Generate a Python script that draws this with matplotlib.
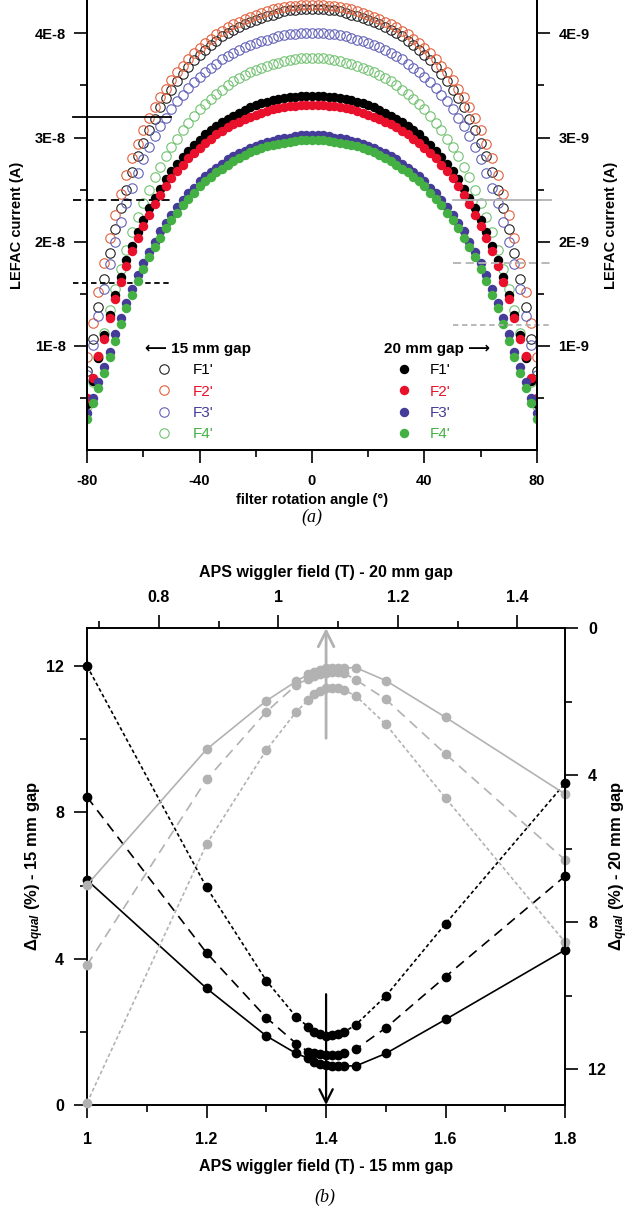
import matplotlib
matplotlib.use("Agg")
import matplotlib.pyplot as plt
from matplotlib.ticker import FixedLocator, FuncFormatter
from matplotlib.lines import Line2D

plt.rcParams['font.family'] = ['Liberation Sans', 'DejaVu Sans']
plt.rcParams['font.weight'] = 'bold'
plt.rcParams['axes.unicode_minus'] = False
plt.rcParams['mathtext.fontset'] = 'custom'
plt.rcParams['mathtext.rm'] = 'Liberation Sans:bold'
plt.rcParams['mathtext.it'] = 'Liberation Sans:bold:italic'
plt.rcParams['mathtext.bf'] = 'Liberation Sans:bold'

#%% panel (a) data: LEFAC current vs filter rotation angle
angle = list(range(-80, 81, 2))
names = ["F1'", "F2'", "F3'", "F4'"]

# 15 mm gap, open circles, units of 1E-8 A (left axis)
open_F1 = [0.76, 1.07, 1.37, 1.64, 1.89, 2.12, 2.32, 2.50, 2.67, 2.82, 2.95, 3.07, 3.18, 3.29, 3.38, 3.46, 3.54, 3.61, 3.68, 3.74,
           3.79, 3.84, 3.89, 3.93, 3.97, 4.00, 4.03, 4.06, 4.09, 4.11, 4.13, 4.15, 4.17, 4.18, 4.20, 4.21, 4.22, 4.22, 4.23, 4.23,
           4.23,
           4.23, 4.23, 4.22, 4.22, 4.21, 4.20, 4.18, 4.17, 4.15, 4.13, 4.11, 4.09, 4.06, 4.03, 4.00, 3.97, 3.93, 3.89, 3.84,
           3.79, 3.74, 3.68, 3.61, 3.54, 3.46, 3.38, 3.29, 3.18, 3.07, 2.95, 2.82, 2.67, 2.50, 2.32, 2.12, 1.89, 1.64, 1.37, 1.07, 0.76]
open_F2 = [0.89, 1.22, 1.52, 1.80, 2.04, 2.26, 2.46, 2.64, 2.80, 2.94, 3.07, 3.19, 3.29, 3.39, 3.47, 3.55, 3.63, 3.69, 3.75, 3.81,
           3.86, 3.91, 3.95, 3.99, 4.02, 4.06, 4.09, 4.11, 4.14, 4.16, 4.18, 4.20, 4.21, 4.23, 4.24, 4.25, 4.26, 4.26, 4.27, 4.27,
           4.27,
           4.27, 4.27, 4.26, 4.26, 4.25, 4.24, 4.23, 4.21, 4.20, 4.18, 4.16, 4.14, 4.11, 4.09, 4.06, 4.02, 3.99, 3.95, 3.91,
           3.86, 3.81, 3.75, 3.69, 3.63, 3.55, 3.47, 3.39, 3.29, 3.19, 3.07, 2.94, 2.80, 2.64, 2.46, 2.26, 2.04, 1.80, 1.52, 1.22, 0.89]
open_F3 = [0.72, 1.01, 1.29, 1.55, 1.79, 2.00, 2.19, 2.37, 2.52, 2.66, 2.79, 2.91, 3.01, 3.11, 3.19, 3.27, 3.35, 3.41, 3.48, 3.53,
           3.58, 3.63, 3.67, 3.71, 3.75, 3.78, 3.81, 3.84, 3.87, 3.89, 3.91, 3.93, 3.94, 3.96, 3.97, 3.98, 3.99, 3.99, 4.00, 4.00,
           4.00,
           4.00, 4.00, 3.99, 3.99, 3.98, 3.97, 3.96, 3.94, 3.93, 3.91, 3.89, 3.87, 3.84, 3.81, 3.78, 3.75, 3.71, 3.67, 3.63,
           3.58, 3.53, 3.48, 3.41, 3.35, 3.27, 3.19, 3.11, 3.01, 2.91, 2.79, 2.66, 2.52, 2.37, 2.19, 2.00, 1.79, 1.55, 1.29, 1.01, 0.72]
open_F4 = [0.42, 0.65, 0.89, 1.12, 1.34, 1.55, 1.74, 1.92, 2.09, 2.24, 2.37, 2.50, 2.62, 2.72, 2.82, 2.91, 2.99, 3.07, 3.14, 3.21,
           3.27, 3.32, 3.37, 3.42, 3.46, 3.50, 3.54, 3.57, 3.60, 3.63, 3.65, 3.67, 3.69, 3.71, 3.72, 3.73, 3.74, 3.75, 3.76, 3.76,
           3.76,
           3.76, 3.76, 3.75, 3.74, 3.73, 3.72, 3.71, 3.69, 3.67, 3.65, 3.63, 3.60, 3.57, 3.54, 3.50, 3.46, 3.42, 3.37, 3.32,
           3.27, 3.21, 3.14, 3.07, 2.99, 2.91, 2.82, 2.72, 2.62, 2.50, 2.37, 2.24, 2.09, 1.92, 1.74, 1.55, 1.34, 1.12, 0.89, 0.65, 0.42]

# 20 mm gap, filled circles, units of 1E-9 A (right axis)
fill_F1 = [0.44, 0.66, 0.88, 1.10, 1.30, 1.49, 1.66, 1.82, 1.96, 2.09, 2.21, 2.32, 2.42, 2.51, 2.60, 2.68, 2.75, 2.81, 2.87, 2.93,
           2.98, 3.03, 3.07, 3.11, 3.15, 3.18, 3.21, 3.24, 3.26, 3.29, 3.31, 3.33, 3.34, 3.36, 3.37, 3.38, 3.39, 3.39, 3.40, 3.40,
           3.40,
           3.40, 3.40, 3.39, 3.39, 3.38, 3.37, 3.36, 3.34, 3.33, 3.31, 3.29, 3.26, 3.24, 3.21, 3.18, 3.15, 3.11, 3.07, 3.03,
           2.98, 2.93, 2.87, 2.81, 2.75, 2.68, 2.60, 2.51, 2.42, 2.32, 2.21, 2.09, 1.96, 1.82, 1.66, 1.49, 1.30, 1.10, 0.88, 0.66, 0.44]
fill_F2 = [0.50, 0.69, 0.90, 1.07, 1.27, 1.45, 1.61, 1.77, 1.91, 2.04, 2.15, 2.26, 2.36, 2.45, 2.53, 2.61, 2.68, 2.74, 2.80, 2.85,
           2.90, 2.95, 2.99, 3.03, 3.06, 3.10, 3.13, 3.15, 3.18, 3.20, 3.22, 3.24, 3.25, 3.27, 3.28, 3.29, 3.30, 3.30, 3.31, 3.31,
           3.31,
           3.31, 3.31, 3.30, 3.30, 3.29, 3.28, 3.27, 3.25, 3.24, 3.22, 3.20, 3.18, 3.15, 3.13, 3.10, 3.06, 3.03, 2.99, 2.95,
           2.90, 2.85, 2.80, 2.74, 2.68, 2.61, 2.53, 2.45, 2.36, 2.26, 2.15, 2.04, 1.91, 1.77, 1.61, 1.45, 1.27, 1.07, 0.90, 0.69, 0.50]
fill_F3 = [0.36, 0.50, 0.65, 0.80, 0.94, 1.11, 1.27, 1.41, 1.55, 1.68, 1.80, 1.90, 2.00, 2.10, 2.18, 2.26, 2.33, 2.40, 2.47, 2.52,
           2.58, 2.63, 2.67, 2.71, 2.75, 2.79, 2.82, 2.85, 2.87, 2.90, 2.92, 2.94, 2.96, 2.97, 2.99, 3.00, 3.00, 3.01, 3.02, 3.02,
           3.02,
           3.02, 3.02, 3.01, 3.00, 3.00, 2.99, 2.97, 2.96, 2.94, 2.92, 2.90, 2.87, 2.85, 2.82, 2.79, 2.75, 2.71, 2.67, 2.63,
           2.58, 2.52, 2.47, 2.40, 2.33, 2.26, 2.18, 2.10, 2.00, 1.90, 1.80, 1.68, 1.55, 1.41, 1.27, 1.11, 0.94, 0.80, 0.65, 0.50, 0.36]
fill_F4 = [0.30, 0.45, 0.60, 0.74, 0.89, 1.05, 1.21, 1.36, 1.49, 1.62, 1.74, 1.85, 1.95, 2.04, 2.13, 2.21, 2.28, 2.35, 2.41, 2.47,
           2.53, 2.58, 2.62, 2.67, 2.70, 2.74, 2.77, 2.80, 2.83, 2.86, 2.88, 2.90, 2.92, 2.93, 2.94, 2.95, 2.96, 2.97, 2.98, 2.98,
           2.98,
           2.98, 2.98, 2.97, 2.96, 2.95, 2.94, 2.93, 2.92, 2.90, 2.88, 2.86, 2.83, 2.80, 2.77, 2.74, 2.70, 2.67, 2.62, 2.58,
           2.53, 2.47, 2.41, 2.35, 2.28, 2.21, 2.13, 2.04, 1.95, 1.85, 1.74, 1.62, 1.49, 1.36, 1.21, 1.05, 0.89, 0.74, 0.60, 0.45, 0.30]

left_levels = [3.2, 2.4, 1.6]     # 1E-8 A
right_levels = [2.4, 1.8, 1.2]    # 1E-9 A

#%% panel (b) data: Delta_qual vs APS wiggler field
field_15 = [1.0, 1.2, 1.3, 1.35, 1.37, 1.38, 1.39, 1.40, 1.41, 1.42, 1.43, 1.45, 1.5, 1.6, 1.8]
dq15_solid = [6.15, 3.19, 1.89, 1.41, 1.28, 1.18, 1.12, 1.09, 1.08, 1.07, 1.07, 1.07, 1.41, 2.34, 4.24]
dq15_dash = [8.42, 4.16, 2.39, 1.68, 1.46, 1.43, 1.39, 1.37, 1.37, 1.38, 1.42, 1.53, 2.11, 3.51, 6.26]
dq15_dot = [12.0, 5.95, 3.40, 2.41, 2.14, 2.00, 1.93, 1.89, 1.91, 1.94, 1.99, 2.20, 2.98, 4.96, 8.80]

field_20 = [0.68, 0.88, 0.98, 1.03, 1.05, 1.06, 1.07, 1.08, 1.09, 1.10, 1.11, 1.13, 1.18, 1.28, 1.48]
dq20_solid = [6.99, 3.30, 1.98, 1.45, 1.26, 1.19, 1.14, 1.10, 1.08, 1.08, 1.08, 1.08, 1.43, 2.43, 4.52]
dq20_dash = [9.17, 4.12, 2.28, 1.55, 1.38, 1.30, 1.25, 1.22, 1.20, 1.20, 1.23, 1.41, 1.94, 3.43, 6.31]
dq20_dot = [12.92, 5.88, 3.32, 2.28, 1.96, 1.80, 1.71, 1.64, 1.62, 1.64, 1.69, 1.85, 2.62, 4.63, 8.55]

#%% styles
open_cols = ["#222222", "#e2603c", "#6262b8", "#72c272"]
fill_cols = ["#000000", "#e8102a", "#443c98", "#44b044"]
GRAY = "#b2b2b2"
tick_kw = dict(direction='out', width=1.2, length=9.5)
minor_kw = dict(direction='out', width=1.2, length=5)

fig = plt.figure(figsize=(6.4, 12.15), dpi=100)

#%% panel (a)
ax1 = fig.add_axes([0.136, 0.6296, 0.703, 0.3704])
ax1r = ax1.twinx()
for vals, c in zip([open_F1, open_F2, open_F3, open_F4], open_cols):
    ax1.plot(angle, vals, 'o', mfc='none', mec=c, ms=6.8, mew=0.8)
for vals, c in zip([fill_F1, fill_F2, fill_F3, fill_F4], fill_cols):
    ax1r.plot(angle, vals, 'o', color=c, ms=6.8, mew=0)

for lev, ls in zip(left_levels, ['-', (0, (4.5, 2.5)), (0, (3, 2))]):
    ax1.plot([-85, -50], [lev, lev], color='k', lw=1.3, ls=ls, clip_on=False)
for lev, ls in zip(right_levels, ['-', (0, (4.5, 2.5)), (0, (3, 2))]):
    ax1r.plot([50, 85], [lev, lev], color=GRAY, lw=1.3, ls=ls, clip_on=False)

for a in (ax1, ax1r):
    a.set_xlim(-80, 80)
    a.set_ylim(0, 4.32)
    a.spines['top'].set_visible(False)
    for s in a.spines.values():
        s.set_linewidth(1.4)
    a.yaxis.set_major_locator(FixedLocator([1, 2, 3, 4]))
    a.yaxis.set_minor_locator(FixedLocator([0.5, 1.5, 2.5, 3.5]))
    a.tick_params(which='major', labelsize=10.5, pad=6, **tick_kw)
    a.tick_params(which='minor', **minor_kw)
ax1.xaxis.set_major_locator(FixedLocator([-80, -40, 0, 40, 80]))
ax1.xaxis.set_minor_locator(FixedLocator([-60, -20, 20, 60]))
ax1.tick_params(axis='x', which='major', pad=8)
ax1.yaxis.set_major_formatter(FuncFormatter(lambda v, p: f"{int(round(v))}E-8"))
ax1r.yaxis.set_major_formatter(FuncFormatter(lambda v, p: f"{int(round(v))}E-9"))
ax1.set_xlabel("filter rotation angle (\u00b0)", fontsize=10.5, weight='bold')
ax1.xaxis.set_label_coords(0.5, -0.095)
ax1.set_ylabel("LEFAC current (A)", fontsize=10.5, weight='bold')
ax1.yaxis.set_label_coords(-0.14, 0.5)
ax1r.set_ylabel("LEFAC current (A)", fontsize=10.5, weight='bold')
ax1r.yaxis.set_label_coords(1.15, 0.5)

h_open = [Line2D([], [], ls='none', marker='o', mfc='none', mec=c, ms=6.8, mew=0.8) for c in open_cols]
h_fill = [Line2D([], [], ls='none', marker='o', color=c, ms=6.8, mew=0) for c in fill_cols]
leg_kw = dict(loc='upper left', frameon=False, prop={'size': 11, 'weight': 'normal'},
              title_fontproperties={'size': 11, 'weight': 'bold',
                                    'family': ['Liberation Sans', 'DejaVu Sans']},
              alignment='left', borderpad=0, labelspacing=0.48)
leg1 = ax1.legend(h_open, names, bbox_to_anchor=(0.112, 0.257), title="\u27f5 15 mm gap",
                  labelcolor=fill_cols, handlelength=2.5, handletextpad=0.6, **leg_kw)
ax1r.legend(h_fill, names, bbox_to_anchor=(0.644, 0.257), title="20 mm gap \u27f6",
            labelcolor=fill_cols, handlelength=2.5, handletextpad=0.45, **leg_kw)

fig.text(0.4875, 0.5745, "(a)", family='Liberation Serif', style='italic', weight='normal',
         fontsize=13, ha='center', va='center')

#%% panel (b)
rect_b = [0.136, 0.0905, 0.747, 0.3926]
ax2 = fig.add_axes(rect_b)
axg = fig.add_axes(rect_b, facecolor='none')

ax2.plot(field_15, dq15_solid, '-o', color='k', lw=1.2, ms=6)
ax2.plot(field_15, dq15_dash, 'o', color='k', ls=(0, (6, 4)), lw=1.2, ms=6)
ax2.plot(field_15, dq15_dot, 'o', color='k', ls=(0, (2.2, 1.6)), lw=1.2, ms=6)
ax2.annotate('', xy=(1.4, 0), xytext=(1.4, 3.03),
             arrowprops=dict(arrowstyle='->,head_length=0.6,head_width=0.3', color='k',
                             lw=1.6, mutation_scale=16, shrinkA=0, shrinkB=0))

axg.plot(field_20, dq20_solid, '-o', color=GRAY, lw=1.2, ms=6)
axg.plot(field_20, dq20_dash, 'o', color=GRAY, ls=(0, (6, 4)), lw=1.2, ms=6)
axg.plot(field_20, dq20_dot, 'o', color=GRAY, ls=(0, (2.2, 1.6)), lw=1.2, ms=6)
axg.annotate('', xy=(1.08, 0), xytext=(1.08, 3.0),
             arrowprops=dict(arrowstyle='->,head_length=0.7,head_width=0.35', color=GRAY,
                             lw=2.0, mutation_scale=16, shrinkA=0, shrinkB=0))

ax2.set_xlim(1.0, 1.8)
ax2.set_ylim(0, 13.04)
axg.set_xlim(0.68, 1.48)
axg.set_ylim(12.98, 0)
for p in ax2.get_lines() + axg.get_lines():
    p.set_clip_on(False)

ax2.spines['top'].set_visible(False)
ax2.spines['right'].set_visible(False)
axg.spines['left'].set_visible(False)
axg.spines['bottom'].set_visible(False)
for a in (ax2, axg):
    for s in a.spines.values():
        s.set_linewidth(1.4)
axg.xaxis.tick_top()
axg.xaxis.set_label_position('top')
axg.yaxis.tick_right()
axg.yaxis.set_label_position('right')

fmt = FuncFormatter(lambda v, p: f"{v:g}")
ax2.xaxis.set_major_locator(FixedLocator([1.0, 1.2, 1.4, 1.6, 1.8]))
ax2.xaxis.set_minor_locator(FixedLocator([1.1, 1.3, 1.5, 1.7]))
ax2.yaxis.set_major_locator(FixedLocator([0, 4, 8, 12]))
ax2.yaxis.set_minor_locator(FixedLocator([2, 6, 10]))
axg.xaxis.set_major_locator(FixedLocator([0.8, 1.0, 1.2, 1.4]))
axg.xaxis.set_minor_locator(FixedLocator([0.7, 0.9, 1.1, 1.3]))
axg.yaxis.set_major_locator(FixedLocator([0, 4, 8, 12]))
axg.yaxis.set_minor_locator(FixedLocator([2, 6, 10]))
for a in (ax2, axg):
    a.xaxis.set_major_formatter(fmt)
    a.yaxis.set_major_formatter(fmt)
    a.tick_params(which='major', labelsize=11.5, pad=7, **tick_kw)
    a.tick_params(which='minor', **minor_kw)
ax2.tick_params(axis='x', which='major', pad=10)
axg.tick_params(axis='x', which='major', pad=7)

ax2.set_xlabel("APS wiggler field (T) - 15 mm gap", fontsize=11.5, weight='bold')
ax2.xaxis.set_label_coords(0.5, -0.113)
axg.set_xlabel("APS wiggler field (T) - 20 mm gap", fontsize=11.5, weight='bold')
axg.xaxis.set_label_coords(0.5, 1.108)
ax2.set_ylabel(r"$\Delta_{qual}$ (%) - 15 mm gap", fontsize=12, weight='bold')
ax2.yaxis.set_label_coords(-0.085, 0.5)
axg.set_ylabel(r"$\Delta_{qual}$ (%) - 20 mm gap", fontsize=12, weight='bold')
axg.yaxis.set_label_coords(1.088, 0.5)

fig.text(0.508, 0.0148, "(b)", family='Liberation Serif', style='italic', weight='normal',
         fontsize=13, ha='center', va='center')

fig.savefig("out.png", dpi=100)
